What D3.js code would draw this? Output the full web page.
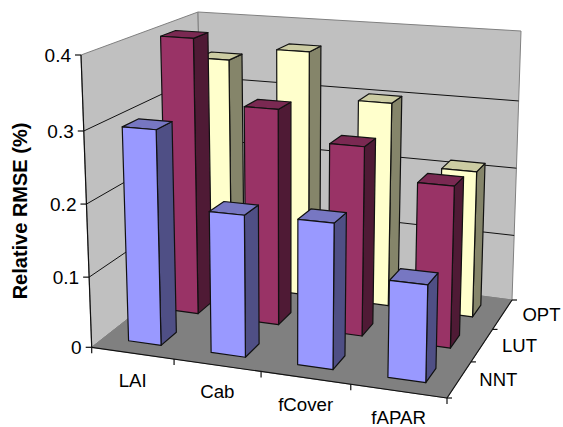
<!DOCTYPE html>
<html>
<head>
<meta charset="utf-8">
<script src="https://cdn.jsdelivr.net/npm/d3@7"></script>
<style>
html, body { margin: 0; padding: 0; background: #fff; }
text { font-family: "Liberation Sans", Arial, sans-serif; fill: #000; }
</style>
</head>
<body>
<div id="chart"></div>
<script>
//****data****
const categories = ["LAI", "Cab", "fCover", "fAPAR"];
const seriesNames = ["NNT", "LUT", "OPT"];
const nntValues = [0.30, 0.195, 0.197, 0.13];
const lutValues = [0.40, 0.31, 0.268, 0.225];
const optValues = [0.347, 0.367, 0.302, 0.213];
const yTicks = [0, 0.1, 0.2, 0.3, 0.4];
const yTickLabels = ["0", "0.1", "0.2", "0.3", "0.4"];

const seriesValues = [nntValues, lutValues, optValues];
const seriesColors = [
    { front: "#9999ff", side: "#4f4f85", top: "#7777c2" },
    { front: "#993366", side: "#4f1a35", top: "#7a2952" },
    { front: "#ffffcc", side: "#85856a", top: "#cccca3" }
];

const w = 563;
const h = 427;

//****projection****
// unit square -> quad, corners in order (0,0) (1,0) (1,1) (0,1)
function homography(q) {
    const [x0, y0] = q[0], [x1, y1] = q[1], [x2, y2] = q[2], [x3, y3] = q[3];
    const sx = x0 - x1 + x2 - x3, sy = y0 - y1 + y2 - y3;
    const dx1 = x1 - x2, dx2 = x3 - x2, dy1 = y1 - y2, dy2 = y3 - y2;
    const den = dx1 * dy2 - dx2 * dy1;
    const g = (sx * dy2 - dx2 * sy) / den;
    const k = (dx1 * sy - sx * dy1) / den;
    const a = x1 - x0 + g * x1, b = x3 - x0 + k * x3;
    const d = y1 - y0 + g * y1, e = y3 - y0 + k * y3;
    return (u, v) => {
        const t = g * u + k * v + 1;
        return [(a * u + b * v + x0) / t, (d * u + e * v + y0) / t];
    };
}

const floorAt = homography([[91.7, 347.3], [447, 398], [512, 300], [203, 260]]);
const ceilAt = homography([[81, 55], [454, 80], [521, 31], [198, 12]]);

// the value axis is a little stretched by the perspective
const heightScale = d3.scaleLinear().domain(yTicks).range([0, 0.24, 0.49, 0.74, 1]);
const catScale = d3.scaleBand().domain(categories).range([0, 1]);
const serScale = d3.scaleBand().domain(seriesNames).range([0, 1]);
// front edge ticks are not quite where the plain homography puts them
const uWarp = d3.scaleLinear().domain([0, 0.25, 0.5, 0.75, 1]).range([0, 0.24, 0.488, 0.738, 1]);

function project(u, v, value) {
    const a = floorAt(uWarp(u), v), b = ceilAt((u + uWarp(u)) / 2, v), t = heightScale(value);
    return [a[0] + (b[0] - a[0]) * t, a[1] + (b[1] - a[1]) * t];
}

const line = d3.line();
const poly = pts => line(pts) + "Z";

const svg = d3.select("#chart")
    .append("svg")
    .attr("width", w)
    .attr("height", h)
    .style("display", "block");

//****walls and floor****
const top0 = yTicks[yTicks.length - 1];
svg.append("path")
    .attr("d", poly([project(0, 0, 0), project(0, 1, 0), project(0, 1, top0), project(0, 0, top0)]))
    .attr("fill", "#c0c0c0").attr("stroke", "#808080").attr("stroke-width", 1);
svg.append("path")
    .attr("d", poly([project(0, 1, 0), project(1, 1, 0), project(1, 1, top0), project(0, 1, top0)]))
    .attr("fill", "#c0c0c0").attr("stroke", "#808080").attr("stroke-width", 1);
svg.append("path")
    .attr("d", poly([project(0, 0, 0), project(1, 0, 0), project(1, 1, 0), project(0, 1, 0)]))
    .attr("fill", "#808080").attr("stroke", "#808080").attr("stroke-width", 1);

//gridlines
yTicks.slice(1, -1).forEach(t => {
    svg.append("path")
        .attr("d", line([project(0, 0, t), project(0, 1, t), project(1, 1, t)]))
        .attr("fill", "none").attr("stroke", "#111").attr("stroke-width", 1);
});

//axis lines
const axisColor = "#111";
function axisLine(a, b) {
    svg.append("path").attr("d", line([a, b]))
        .attr("fill", "none").attr("stroke", axisColor).attr("stroke-width", 1.2);
}
axisLine(project(0, 0, 0), project(0, 0, top0));
axisLine(project(0, 0, 0), project(1, 0, 0));
axisLine(project(1, 0, 0), project(1, 1, 0));

//y ticks
yTicks.forEach((t, i) => {
    const p = project(0, 0, t);
    axisLine(p, [p[0] - 6, p[1]]);
    svg.append("text")
        .attr("x", p[0] - 10)
        .attr("y", p[1] + 7)
        .attr("text-anchor", "end")
        .attr("font-size", 19)
        .text(yTickLabels[i]);
});

//category ticks, one per band edge
categories.forEach((c, i) => {
    const u0 = catScale(c);
    const p = project(u0, 0, 0);
    axisLine(p, [p[0], p[1] + 6]);
    const mid = project(u0 + catScale.bandwidth() / 2, 0, 0);
    svg.append("text")
        .attr("x", mid[0])
        .attr("y", mid[1] + 33.5 - i * 0.3)
        .attr("text-anchor", "middle")
        .attr("font-size", 18.7)
        .text(c);
});
const endTick = project(1, 0, 0);
axisLine(endTick, [endTick[0], endTick[1] + 6]);

//series ticks on the right floor edge
seriesNames.forEach(s => {
    const v0 = serScale(s);
    const p = project(1, v0, 0);
    axisLine(p, [p[0] + 5, p[1]]);
    const mid = project(1, v0 + serScale.bandwidth() / 2, 0);
    svg.append("text")
        .attr("x", mid[0] + 20)
        .attr("y", mid[1] + 6.5)
        .attr("font-size", 18.5)
        .text(s);
});
const backTick = project(1, 1, 0);
axisLine(backTick, [backTick[0] + 5, backTick[1]]);

//axis title
svg.append("text")
    .attr("transform", "translate(27,211) rotate(-90)")
    .attr("text-anchor", "middle")
    .attr("font-size", 20)
    .attr("font-weight", "bold")
    .text("Relative RMSE (%)");

//****bars****
const barFrac = 0.4;
const barGap = (1 - barFrac) / 2;

function drawBar(cat, serIndex, value, colors) {
    const cw = catScale.bandwidth(), sw = serScale.bandwidth();
    const u0 = catScale(cat) + cw * barGap, u1 = u0 + cw * barFrac;
    const v0 = serScale(seriesNames[serIndex]) + sw * barGap, v1 = v0 + sw * barFrac;
    const g = svg.append("g")
        .attr("stroke", "#111").attr("stroke-width", 1.2).attr("stroke-linejoin", "round");
    g.append("path").attr("fill", colors.side)
        .attr("d", poly([project(u1, v0, 0), project(u1, v1, 0), project(u1, v1, value), project(u1, v0, value)]));
    g.append("path").attr("fill", colors.top)
        .attr("d", poly([project(u0, v0, value), project(u1, v0, value), project(u1, v1, value), project(u0, v1, value)]));
    g.append("path").attr("fill", colors.front)
        .attr("d", poly([project(u0, v0, 0), project(u1, v0, 0), project(u1, v0, value), project(u0, v0, value)]));
}

// back row first so nearer bars cover it
for (let s = seriesNames.length - 1; s >= 0; s--) {
    categories.forEach((c, i) => drawBar(c, s, seriesValues[s][i], seriesColors[s]));
}
</script>
</body>
</html>
